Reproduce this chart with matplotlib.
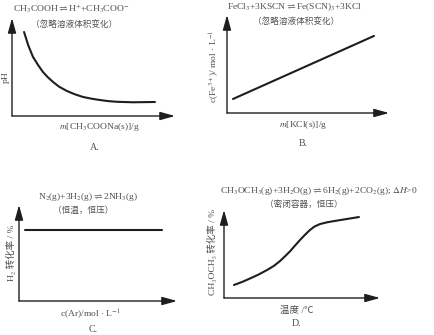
import matplotlib
matplotlib.use("Agg")
import matplotlib.pyplot as plt

plt.rcParams['font.family'] = ['Liberation Serif', 'Noto Sans CJK SC', 'DejaVu Sans']
plt.rcParams['mathtext.fontset'] = 'stix'

W, H = 434, 335
TXT = '#505050'
LINE = '#1e1e1e'

# Panel A: pH vs m[CH3COONa]
a_x = [0.74, 1.0, 1.29, 1.6, 1.90, 2.2, 2.52, 2.9, 3.37, 3.85, 4.36, 4.9, 5.40, 5.9, 6.44, 7.42, 8.77]
a_y = [8.57, 7.2, 6.02, 5.2, 4.49, 3.95, 3.47, 2.98, 2.55, 2.22, 1.94, 1.76, 1.63, 1.52, 1.45, 1.40, 1.43]
# Panel B: c(Fe3+) vs m[KCl]
b_x = [0.37, 9.07]
b_y = [1.43, 7.86]
# Panel C: H2 conversion vs c(Ar)
c_x = [0.38, 9.05]
c_y = [7.40, 7.40]
# Panel D: CH3OCH3 conversion vs temperature
d_x = [0.64, 1.2, 1.67, 2.2, 2.76, 3.2, 3.59, 3.9, 4.23, 4.55, 4.87, 5.2, 5.51, 5.8, 6.15, 6.6, 7.05, 7.88, 8.65]
d_y = [1.48, 1.85, 2.22, 2.65, 3.18, 3.65, 4.20, 4.72, 5.30, 5.95, 6.59, 7.20, 7.73, 8.12, 8.40, 8.60, 8.74, 8.98, 9.20]

panels = [
    dict(box=(12, 18, 175, 116), x=a_x, y=a_y),
    dict(box=(227, 15, 389, 113), x=b_x, y=b_y),
    dict(box=(19, 205, 177, 301), x=c_x, y=c_y),
    dict(box=(224, 210, 380, 298), x=d_x, y=d_y),
]

fig = plt.figure(figsize=(W / 100, H / 100), dpi=100)
fig.patch.set_facecolor('white')


def px(x, y):
    return x / W, 1 - y / H


for p in panels:
    x0, y0, x1, y1 = p['box']
    ax = fig.add_axes([x0 / W, 1 - y1 / H, (x1 - x0) / W, (y1 - y0) / H])
    ax.set_xlim(0, 10)
    ax.set_ylim(0, 10)
    ax.axis('off')
    ax.plot(p['x'], p['y'], color=LINE, lw=1.5, solid_capstyle='round', solid_joinstyle='round')
    for end in [(1, 0), (0, 1)]:
        ax.annotate('', xy=end, xytext=(0, 0), xycoords='axes fraction',
                    arrowprops=dict(arrowstyle='-|>,head_length=0.9,head_width=0.25',
                                    lw=1.0, color=LINE, shrinkA=0, shrinkB=0),
                    annotation_clip=False)

fs = 6.8


def t(x, y, s, size=fs, rot=0, ha='center'):
    fig.text(*px(x, y), s, fontsize=size, color=TXT, ha=ha, va='center', rotation=rot)


# Panel A texts
t(71, 9, r'CH$_3$COOH$\rightleftharpoons$H$^{+}$+CH$_3$COO$^{-}$')
t(74, 25, '（忽略溶液体积变化）', size=6.2)
t(6, 77, 'pH', rot=90)
t(99, 127, r'$m$[CH$_3$COONa(s)]/g')
t(95, 147, 'A.', size=7.2)

# Panel B texts
t(295, 7, r'FeCl$_3$+3KSCN$\rightleftharpoons$Fe(SCN)$_3$+3KCl')
t(296, 22, '（忽略溶液体积变化）', size=6.2)
t(214, 66, r'c(Fe$^{3+}$)/ mol · L$^{-1}$', rot=90)
t(303, 125, r'$m$[KCl(s)]/g')
t(303, 143, 'B.', size=7.2)

# Panel C texts
t(88, 197, r'N$_2$(g)+3H$_2$(g)$\rightleftharpoons$2NH$_3$(g)')
t(83, 211, '（恒温，恒压）', size=6.2)
t(11, 253, 'H₂ 转化率 / %', rot=90)
t(90, 314, r'c(Ar)/mol · L$^{-1}$')
t(93, 330, 'C.', size=7.2)

# Panel D texts
t(319, 191, r'CH$_3$OCH$_3$(g)+3H$_2$O(g)$\rightleftharpoons$6H$_2$(g)+2CO$_2$(g); $\Delta H$>0')
t(304, 205, '（密闭容器，恒压）', size=6.2)
t(212, 252, 'CH₃OCH₃ 转化率 / %', rot=90)
t(297, 310, '温度 /℃')
t(297, 323, 'D.', size=7.2)

fig.savefig('out.png', dpi=100, facecolor='white')
